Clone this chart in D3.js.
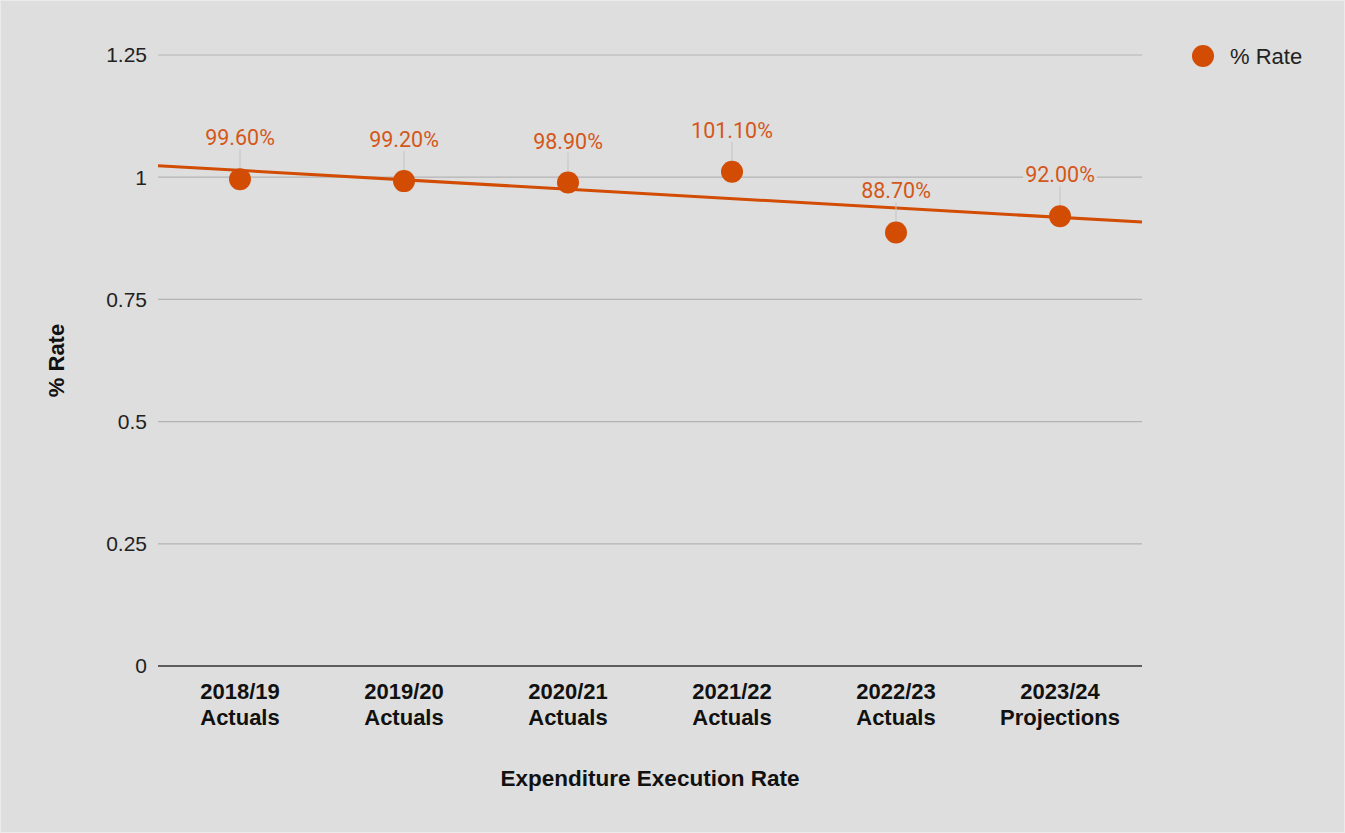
<!DOCTYPE html>
<meta charset="utf-8">
<title>Expenditure Execution Rate</title>
<style>
body { margin: 0; background: #dedede; }
svg { display: block; }
</style>
<svg width="1345" height="833"></svg>
<script src="https://cdnjs.cloudflare.com/ajax/libs/d3/7.8.5/d3.min.js"></script>
<script>

// data
var years = ["2018/19", "2019/20", "2020/21", "2021/22", "2022/23", "2023/24"];
var kinds = ["Actuals", "Actuals", "Actuals", "Actuals", "Actuals", "Projections"];
var rates = [0.996, 0.992, 0.989, 1.011, 0.887, 0.920];
var yTicks = [0, 0.25, 0.5, 0.75, 1, 1.25];

var orange = "#d24c04";
var sans = "Liberation Sans, Arial, sans-serif";

var svg = d3.select("svg"),
    width = +svg.attr("width"),
    height = +svg.attr("height");

//background
svg.append("rect")
    .attr("x", 0.5).attr("y", 0.5)
    .attr("width", width - 1)
    .attr("height", height - 1)
    .attr("fill", "#dedede")
    .attr("stroke", "#ebebeb");

var plotL = 158, plotR = 1142, plotT = 55, plotB = 666;

var x = d3.scaleBand().domain(d3.range(years.length)).range([plotL, plotR]);
var y = d3.scaleLinear().domain([0, 1.25]).range([plotB, plotT]);

//gridlines
svg.append("g")
  .selectAll("line")
  .data(yTicks)
  .enter().append("line")
    .attr("x1", plotL).attr("x2", plotR)
    .attr("y1", function(d) { return y(d); })
    .attr("y2", function(d) { return y(d); })
    .attr("stroke", function(d) { return d === 0 ? "#333333" : "#b3b3b3"; })
    .attr("stroke-width", function(d) { return d === 0 ? 1.6 : 1.2; });

//y tick labels
svg.append("g")
  .selectAll("text")
  .data(yTicks)
  .enter().append("text")
    .attr("x", 147)
    .attr("y", function(d) { return y(d); })
    .attr("dy", "0.35em")
    .attr("text-anchor", "end")
    .attr("font-family", sans)
    .attr("font-size", 21)
    .attr("fill", "#222")
    .text(function(d) { return d; });

//x tick labels (two lines)
var xl = svg.append("g")
  .selectAll("text")
  .data(years)
  .enter().append("text")
    .attr("text-anchor", "middle")
    .attr("font-family", sans)
    .attr("font-size", 22)
    .attr("font-weight", "bold")
    .attr("fill", "#111");
xl.append("tspan")
    .attr("x", function(d, i) { return x(i) + x.bandwidth() / 2; })
    .attr("y", 699)
    .text(function(d) { return d; });
xl.append("tspan")
    .attr("x", function(d, i) { return x(i) + x.bandwidth() / 2; })
    .attr("y", 725)
    .text(function(d, i) { return kinds[i]; });

//axis titles
svg.append("text")
    .attr("x", (plotL + plotR) / 2)
    .attr("y", 786)
    .attr("text-anchor", "middle")
    .attr("font-family", sans)
    .attr("font-size", 22.5)
    .attr("font-weight", "bold")
    .attr("fill", "#111")
    .text("Expenditure Execution Rate");

svg.append("text")
    .attr("transform", "translate(64," + ((plotT + plotB) / 2) + ") rotate(-90)")
    .attr("text-anchor", "middle")
    .attr("font-family", sans)
    .attr("font-size", 22)
    .attr("font-weight", "bold")
    .attr("fill", "#111")
    .text("% Rate");

//linear trendline over category index
var idx = d3.range(rates.length),
    mx = d3.mean(idx),
    my = d3.mean(rates);
var slope = d3.sum(idx, function(i) { return (i - mx) * (rates[i] - my); }) /
            d3.sum(idx, function(i) { return (i - mx) * (i - mx); });
var step = x.step();
function trend(px) {
  var t = (px - (plotL + step / 2)) / step;
  return my + slope * (t - mx);
}
svg.append("line")
    .attr("x1", plotL).attr("x2", plotR)
    .attr("y1", y(trend(plotL)))
    .attr("y2", y(trend(plotR)))
    .attr("stroke", orange)
    .attr("stroke-width", 3);

//leader lines
svg.append("g")
  .selectAll("line")
  .data(rates)
  .enter().append("line")
    .attr("x1", function(d, i) { return x(i) + x.bandwidth() / 2; })
    .attr("x2", function(d, i) { return x(i) + x.bandwidth() / 2; })
    .attr("y1", function(d) { return y(d) - 30; })
    .attr("y2", function(d) { return y(d) - 10; })
    .attr("stroke", "#c4c4c4")
    .attr("stroke-width", 1);

//points
svg.append("g")
  .selectAll("circle")
  .data(rates)
  .enter().append("circle")
    .attr("cx", function(d, i) { return x(i) + x.bandwidth() / 2; })
    .attr("cy", function(d) { return y(d); })
    .attr("r", 11)
    .attr("fill", orange);

//data labels, with a background box so gridlines break behind them
var labels = svg.append("g");
var lab = labels.selectAll("text")
  .data(rates)
  .enter().append("text")
    .attr("x", function(d, i) { return x(i) + x.bandwidth() / 2; })
    .attr("y", function(d) { return y(d) - 34; })
    .attr("text-anchor", "middle")
    .attr("font-family", "Roboto, sans-serif")
    .attr("font-size", 21.5)
    .attr("fill", "#d4571a")
    .text(function(d) { return d3.format(".2%")(d); });
lab.each(function() {
  var b = this.getBBox();
  labels.insert("rect", "text")
      .attr("x", b.x - 2).attr("y", b.y + 3)
      .attr("width", b.width + 4).attr("height", b.height - 5)
      .attr("fill", "#dedede");
});

//legend
var legend = svg.append("g").attr("transform", "translate(1203,56)");
legend.append("circle").attr("r", 11).attr("fill", orange);
legend.append("text")
    .attr("x", 27)
    .attr("dy", "0.35em")
    .attr("font-family", sans)
    .attr("font-size", 22)
    .attr("fill", "#222")
    .text("% Rate");

</script>
